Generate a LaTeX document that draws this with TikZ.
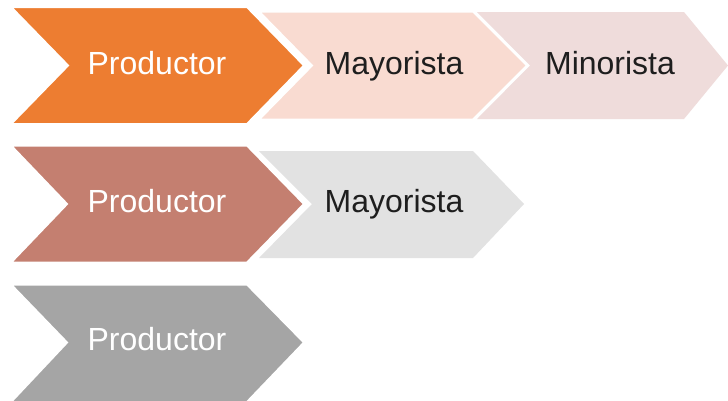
\documentclass[tikz,border=0pt]{standalone}
\usepackage{fontspec}
\setmainfont{Liberation Sans}
\definecolor{cOrange}{HTML}{ED7D31}
\definecolor{cPeach}{HTML}{F9DBD1}
\definecolor{cRose}{HTML}{EFDCDB}
\definecolor{cBrick}{HTML}{C47F70}
\definecolor{cLight}{HTML}{E2E2E2}
\definecolor{cGray}{HTML}{A5A5A5}
\definecolor{cInk}{HTML}{1E1E1E}
\tikzset{
  chev/.style={draw=white, line width=2pt, line join=miter},
  lbl/.style={font=\fontsize{32}{38}\selectfont, inner sep=0pt, anchor=base},
  lightlbl/.style={lbl, text=white},
  darklbl/.style={lbl, text=cInk}
}
\begin{document}
\begin{tikzpicture}[x=1pt,y=-1pt]
\useasboundingbox (0,0) rectangle (728,400);
\fill[white] (0,0) rectangle (728,400);
% Row 1
\fill[cRose] (477,12) -- (684,12) -- (728,65.5) -- (684,119) -- (477,119) -- (530,65.5) -- cycle;
\path[chev, fill=cPeach] (259,11.5) -- (473,11.5) -- (527,65.5) -- (473,119.5) -- (259,119.5) -- (312,65.5) -- cycle;
\path[chev, fill=cOrange] (11,7) -- (247,7) -- (304,65.5) -- (247,124) -- (11,124) -- (68,65.5) -- cycle;
\node[lightlbl] (p1) at (157,74) {Productor};
\node[darklbl] (m1) at (394,74) {Mayorista};
\node[darklbl] (n1) at (610,74) {Minorista};
% Row 2
\path[fill=cLight] (259,151) -- (473,151) -- (524,204) -- (473,258) -- (259,258) -- (312,204) -- cycle;
\path[chev, fill=cBrick] (11,145.5) -- (247,145.5) -- (304,204) -- (247,262.5) -- (11,262.5) -- (67,204) -- cycle;
\node[lightlbl] (p2) at (157,212) {Productor};
\node[darklbl] (m2) at (394,212) {Mayorista};
% Row 3
\path[chev, fill=cGray] (11,284.5) -- (247,284.5) -- (304,342.5) -- (247,402) -- (11,402) -- (67,342.5) -- cycle;
\node[lightlbl] (p3) at (157,350.5) {Productor};
\end{tikzpicture}
\end{document}
